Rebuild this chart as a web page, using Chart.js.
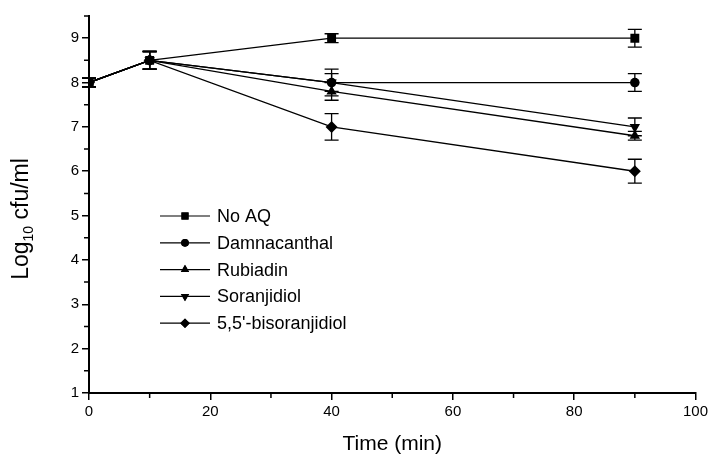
<!DOCTYPE html>
<html>
<head>
<meta charset="utf-8">
<script src="https://cdn.jsdelivr.net/npm/chart.js@4/dist/chart.umd.min.js"></script>
<style>
  html, body { margin: 0; padding: 0; background: #fff; }
  #wrap { width: 711px; height: 455px; }
</style>
</head>
<body>
<div id="wrap"><canvas id="chart" width="711" height="455"></canvas></div>
<script>
const times = [0, 10, 40, 90]

const seriesNames = ["No AQ", "Damnacanthal", "Rubiadin", "Soranjidiol", "5,5'-bisoranjidiol"]

const noAQ = [8.0, 8.5, 9.0, 9.0]
const noAQErr = [0.1, 0.2, 0.1, 0.2]
const damnacanthal = [8.0, 8.5, 8.0, 8.0]
const damnacanthalErr = [0.1, 0.2, 0.3, 0.2]
const rubiadin = [8.0, 8.5, 7.8, 6.8]
const rubiadinErr = [0.1, 0.2, 0.2, 0.1]
const soranjidiol = [8.0, 8.5, 8.0, 7.0]
const soranjidiolErr = [0.1, 0.2, 0.2, 0.2]
const bisoranjidiol = [8.0, 8.5, 7.0, 6.0]
const bisoranjidiolErr = [0.1, 0.2, 0.3, 0.27]

const xTicks = [0, 20, 40, 60, 80, 100]
const yTicks = [1, 2, 3, 4, 5, 6, 7, 8, 9]

const FONT = "'Liberation Sans', Arial, sans-serif"

const markers = [
    { style: "rect", radius: 6.3, rotation: 0 },
    { style: "circle", radius: 4.8, rotation: 0 },
    { style: "triangle", radius: 6, rotation: 0 },
    { style: "triangle", radius: 6, rotation: 180 },
    { style: "rectRot", radius: 6, rotation: 0 },
]

const values = [noAQ, damnacanthal, rubiadin, soranjidiol, bisoranjidiol]
const errors = [noAQErr, damnacanthalErr, rubiadinErr, soranjidiolErr, bisoranjidiolErr]

const datasets = seriesNames.map((name, i) => ({
    label: name,
    data: times.map((t, j) => ({ x: t, y: values[i][j] })),
    errors: errors[i],
    borderColor: "#000",
    backgroundColor: "#000",
    borderWidth: 1.3,
    pointStyle: markers[i].style,
    pointRadius: markers[i].radius,
    pointRotation: markers[i].rotation,
    pointBorderWidth: 0,
    pointHoverRadius: markers[i].radius,
}))

function drawMarker(ctx, style, radius, rotation, x, y) {
    if (Chart.helpers && Chart.helpers.drawPoint) {
        Chart.helpers.drawPoint(ctx, { pointStyle: style, radius: radius, rotation: rotation, borderWidth: 0 }, x, y)
        ctx.fill()
    }
}

const extras = {
    id: "extras",
    beforeDatasetsDraw(chart) {
        const ctx = chart.ctx
        const xs = chart.scales.x
        const ys = chart.scales.y
        ctx.save()
        ctx.strokeStyle = "#000"
        ctx.lineWidth = 1.3
        chart.data.datasets.forEach(ds => {
            ds.data.forEach((p, j) => {
                const e = ds.errors[j]
                const px = xs.getPixelForValue(p.x)
                const top = ys.getPixelForValue(p.y + e)
                const bot = ys.getPixelForValue(p.y - e)
                ctx.beginPath()
                ctx.moveTo(px, top); ctx.lineTo(px, bot)
                ctx.moveTo(px - 7, top); ctx.lineTo(px + 7, top)
                ctx.moveTo(px - 7, bot); ctx.lineTo(px + 7, bot)
                ctx.stroke()
            })
        })
        ctx.restore()
    },
    afterDraw(chart) {
        const ctx = chart.ctx
        const xs = chart.scales.x
        const ys = chart.scales.y
        const area = chart.chartArea
        ctx.save()
        ctx.strokeStyle = "#000"
        ctx.lineWidth = 1.5
        // minor ticks
        ctx.beginPath()
        for (let v = 10; v < 100; v += 20) {
            const px = xs.getPixelForValue(v)
            ctx.moveTo(px, area.bottom); ctx.lineTo(px, area.bottom + 5)
        }
        for (let v = 1.5; v < 9.6; v += 1) {
            const py = ys.getPixelForValue(v)
            ctx.moveTo(area.left, py); ctx.lineTo(area.left - 5, py)
        }
        ctx.stroke()

        // titles
        ctx.fillStyle = "#000"
        ctx.textBaseline = "alphabetic"
        ctx.font = "21px " + FONT
        ctx.textAlign = "center"
        ctx.fillText("Time (min)", (area.left + area.right) / 2, 450)

        ctx.save()
        ctx.translate(28, 219)
        ctx.rotate(-Math.PI / 2)
        const p1 = "Log", p2 = "10", p3 = " cfu/ml"
        ctx.font = "23px " + FONT
        const w1 = ctx.measureText(p1).width
        const w3 = ctx.measureText(p3).width
        ctx.font = "14px " + FONT
        const w2 = ctx.measureText(p2).width
        let sx = -(w1 + w2 + w3) / 2
        ctx.textAlign = "left"
        ctx.font = "23px " + FONT
        ctx.fillText(p1, sx, 0)
        ctx.font = "14px " + FONT
        ctx.fillText(p2, sx + w1, 5)
        ctx.font = "23px " + FONT
        ctx.fillText(p3, sx + w1 + w2, 0)
        ctx.restore()

        // legend
        const lx1 = 160, lx2 = 210, ly0 = 216, step = 26.8
        ctx.font = "18px " + FONT
        ctx.textAlign = "left"
        ctx.textBaseline = "middle"
        seriesNames.forEach((name, i) => {
            const y = ly0 + i * step
            ctx.lineWidth = 1.2
            ctx.beginPath()
            ctx.moveTo(lx1, y); ctx.lineTo(lx2, y)
            ctx.stroke()
            const m = markers[i]
            drawMarker(ctx, m.style, m.radius * 0.8, m.rotation, (lx1 + lx2) / 2, y)
            ctx.fillText(name, 217, y + 1)
        })
        ctx.restore()
    }
}

const chart = new Chart(document.getElementById("chart"), {
    type: "line",
    data: { datasets: datasets },
    plugins: [extras],
    options: {
        responsive: false,
        animation: false,
        layout: { padding: { top: 16, right: 13, left: 0, bottom: 0 } },
        plugins: { legend: { display: false }, tooltip: { enabled: false } },
        scales: {
            x: {
                type: "linear",
                min: 0,
                max: 100,
                afterBuildTicks: s => { s.ticks = xTicks.map(v => ({ value: v })) },
                afterFit: s => { s.height = 62 },
                border: { color: "#000", width: 2 },
                grid: { drawOnChartArea: false, color: "#000", tickLength: 7, lineWidth: 1.5 },
                ticks: { color: "#000", font: { family: FONT, size: 15 }, padding: 3, maxRotation: 0 },
            },
            y: {
                type: "linear",
                min: 1,
                max: 9.5,
                afterBuildTicks: s => { s.ticks = yTicks.map(v => ({ value: v })) },
                afterFit: s => { s.width = 89 },
                border: { color: "#000", width: 2 },
                grid: { drawOnChartArea: false, color: "#000", tickLength: 7, lineWidth: 1.5 },
                ticks: { color: "#000", font: { family: FONT, size: 15 }, padding: 3 },
            },
        },
    },
})
</script>
</body>
</html>
